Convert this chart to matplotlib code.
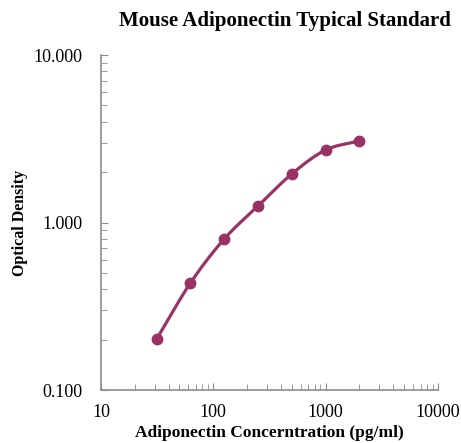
import numpy as np
import matplotlib
matplotlib.use('Agg')
import matplotlib.pyplot as plt
from matplotlib.ticker import LogLocator, NullFormatter, FixedLocator

# standard curve data
conc = np.array([31.25, 62.5, 125, 250, 500, 1000, 2000])
od = np.array([0.201, 0.435, 0.797, 1.254, 1.95, 2.71, 3.07])

color = '#993366'
plt.rcParams['font.family'] = ['Liberation Serif', 'DejaVu Serif']


def smooth(x, y, n=30):
    # catmull-rom through points in log-log space (like excel smoothed line)
    lx, ly = np.log10(x), np.log10(y)
    px = np.concatenate(([2*lx[0]-lx[1]], lx, [2*lx[-1]-lx[-2]]))
    py = np.concatenate(([2*ly[0]-ly[1]], ly, [2*ly[-1]-ly[-2]]))
    xs, ys = [], []
    t = np.linspace(0, 1, n)
    for i in range(1, len(px)-2):
        for p, out in ((px, xs), (py, ys)):
            p0, p1, p2, p3 = p[i-1], p[i], p[i+1], p[i+2]
            out.extend(0.5*((2*p1) + (-p0+p2)*t + (2*p0-5*p1+4*p2-p3)*t**2
                            + (-p0+3*p1-3*p2+p3)*t**3))
    return 10**np.array(xs), 10**np.array(ys)


fig = plt.figure(figsize=(4.61, 4.43), dpi=100)
ax = fig.add_axes([0.219, 0.1196, 0.731, 0.7562])

sx, sy = smooth(conc, od)
ax.plot(sx, sy, color=color, lw=2.3, solid_capstyle='round')
ax.plot(conc, od, 'o', color=color, ms=7.5)

ax.set_xscale('log')
ax.set_yscale('log')
ax.set_xlim(10, 10000)
ax.set_ylim(0.1, 10)

ax.xaxis.set_major_locator(FixedLocator([10, 100, 1000, 10000]))
ax.set_xticklabels(['10', '100', '1000', '10000'])
ax.yaxis.set_major_locator(FixedLocator([0.1, 1, 10]))
ax.set_yticklabels(['0.100', '1.000', '10.000'])
ax.xaxis.set_minor_locator(LogLocator(base=10, subs=np.arange(2, 10)))
ax.yaxis.set_minor_locator(LogLocator(base=10, subs=np.arange(2, 10)))
ax.xaxis.set_minor_formatter(NullFormatter())
ax.yaxis.set_minor_formatter(NullFormatter())

for s in ['top', 'right']:
    ax.spines[s].set_visible(False)
for s in ['left', 'bottom']:
    ax.spines[s].set_color('#8c8c8c')
    ax.spines[s].set_linewidth(1.2)
ax.tick_params(which='both', direction='in', color='#8c8c8c', labelsize=13)
ax.tick_params(axis='y', pad=13)
ax.tick_params(axis='x', pad=10)
ax.tick_params(which='major', length=5)
ax.tick_params(which='minor', length=4)

ax.set_xlabel('Adiponectin Concerntration (pg/ml)', fontsize=12.5, fontweight='bold', labelpad=3)
ax.set_ylabel('Optical Density', fontsize=11.5, fontweight='bold', labelpad=4)
fig.text(0.619, 0.953, 'Mouse Adiponectin Typical Standard', fontsize=15, fontweight='bold',
         ha='center', va='center')

fig.savefig('out.png', dpi=100)
